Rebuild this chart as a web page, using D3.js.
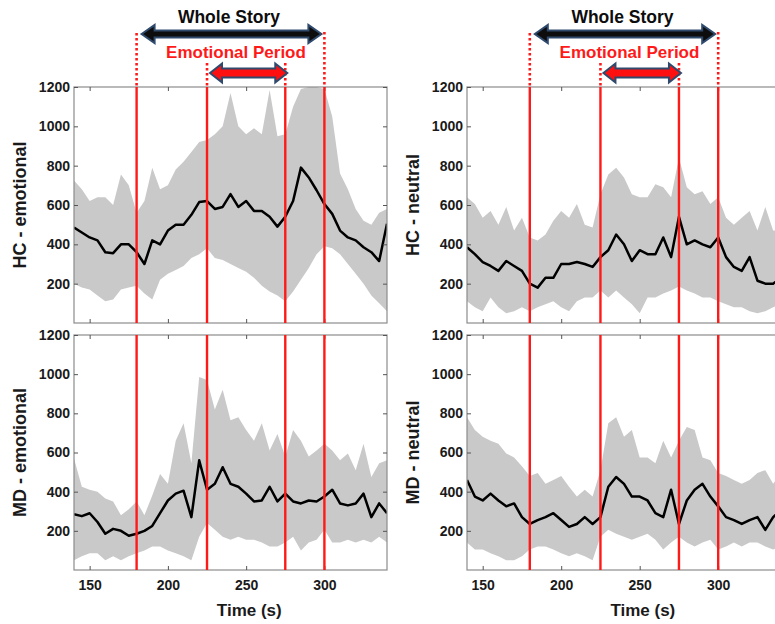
<!DOCTYPE html>
<html>
<head>
<meta charset="utf-8">
<script src="https://cdn.jsdelivr.net/npm/d3@7"></script>
<style>
  body { margin: 0; background: #fff; }
  svg { display: block; font-family: Arial, "Liberation Sans", sans-serif; }
</style>
</head>
<body>
<svg width="775" height="624"></svg>
<script>
// time grid (s)
var times = [140,145,150,155,160,165,170,175,180,185,190,195,200,205,210,215,220,225,230,235,240,
             245,250,255,260,265,270,275,280,285,290,295,300,305,310,315,320,325,330,335,340];

// HC - emotional
var hcEmoMean  = [485,460,435,420,360,355,400,400,360,300,420,400,470,500,500,550,615,620,580,590,655,
                  590,620,570,570,540,490,540,620,790,740,675,605,555,470,435,420,385,360,315,505];
var hcEmoUpper = [725,680,620,640,640,600,755,700,560,620,790,680,700,780,820,870,920,930,960,1000,1170,
                  1000,960,990,960,1185,950,960,1100,1190,1200,1200,1190,1050,760,680,580,520,500,560,580];
var hcEmoLower = [200,180,170,140,110,120,170,180,190,150,120,220,250,270,290,330,350,380,330,320,300,
                  280,260,230,190,160,140,110,160,220,280,350,390,380,350,300,250,200,140,100,60];

// MD - emotional
var mdEmoMean  = [285,275,290,245,185,210,200,175,185,200,225,290,355,390,405,270,560,410,440,525,440,
                  425,390,350,355,425,350,390,350,340,355,350,375,410,340,330,340,390,270,340,290];
var mdEmoUpper = [570,425,410,400,365,350,280,310,350,280,380,490,440,660,750,545,985,970,820,920,765,
                  780,715,660,750,610,695,580,715,660,580,610,645,610,560,595,510,645,475,545,560];
var mdEmoLower = [50,70,85,85,50,70,50,70,85,100,120,120,100,85,70,50,170,240,205,170,155,
                  170,155,155,140,120,120,140,170,100,140,155,205,140,140,155,140,155,140,170,140];

// HC - neutral
var hcNeuMean  = [385,350,310,290,265,315,290,265,200,180,230,230,300,300,310,300,285,335,370,450,400,
                  315,370,350,350,435,335,540,400,420,400,385,435,335,285,265,335,215,200,200,230];
var hcNeuUpper = [640,605,535,570,500,590,470,535,435,420,450,520,570,535,605,500,485,655,755,790,740,
                  655,640,640,705,690,640,840,690,655,670,605,640,535,500,535,570,470,590,470,470];
var hcNeuLower = [110,80,60,130,80,50,60,80,60,80,95,110,80,60,110,130,130,165,130,165,130,
                  95,50,130,130,150,165,185,165,150,130,130,110,95,80,80,60,50,60,80,95];

// MD - neutral
var mdNeuMean  = [460,375,355,390,355,325,340,270,235,255,270,290,255,220,235,270,235,270,425,475,440,
                  375,375,355,290,270,410,235,355,410,440,375,325,270,255,235,255,270,205,270,305];
var mdNeuUpper = [780,715,680,660,645,595,575,530,480,495,440,460,480,425,375,410,375,510,750,780,680,
                  715,575,575,545,660,575,660,730,715,575,560,495,480,460,440,460,495,510,440,495];
var mdNeuLower = [140,105,105,85,70,50,50,70,105,120,120,105,85,70,85,70,50,170,205,185,170,
                  155,170,185,155,105,140,170,140,120,140,155,105,120,140,120,140,140,120,105,120];

var redLines = [180, 225, 275, 300];
var xTicks = [150, 200, 250, 300];
var yTicks = [200, 400, 600, 800, 1000, 1200];

var panels = [
    {name: 'HC - emotional', mean: hcEmoMean, upper: hcEmoUpper, lower: hcEmoLower, col: 0, row: 0},
    {name: 'MD - emotional', mean: mdEmoMean, upper: mdEmoUpper, lower: mdEmoLower, col: 0, row: 1},
    {name: 'HC - neutral',   mean: hcNeuMean, upper: hcNeuUpper, lower: hcNeuLower, col: 1, row: 0},
    {name: 'MD - neutral',   mean: mdNeuMean, upper: mdNeuUpper, lower: mdNeuLower, col: 1, row: 1}
];

var svg = d3.select('svg');
var colX = [[74, 387], [467, 781]];
var rowY = [[323, 87], [570, 335]];
var navy = '#2f4a6d';

function arrowPath(x1, x2, cy, h1, h2, L) {
    return 'M' + x1 + ',' + cy +
        'L' + (x1 + L) + ',' + (cy - h2) + 'L' + (x1 + L) + ',' + (cy - h1) +
        'L' + (x2 - L) + ',' + (cy - h1) + 'L' + (x2 - L) + ',' + (cy - h2) +
        'L' + x2 + ',' + cy +
        'L' + (x2 - L) + ',' + (cy + h2) + 'L' + (x2 - L) + ',' + (cy + h1) +
        'L' + (x1 + L) + ',' + (cy + h1) + 'L' + (x1 + L) + ',' + (cy + h2) + 'Z';
}

panels.forEach(function(p, i) {
    var x = d3.scaleLinear().domain([140, 340]).range(colX[p.col]);
    var y = d3.scaleLinear().domain([0, 1200]).range(rowY[p.row]);
    var g = svg.append('g');

    var clipId = 'clip' + i;
    svg.append('clipPath').attr('id', clipId)
        .append('rect')
        .attr('x', x(140)).attr('y', y(1200))
        .attr('width', x(340) - x(140)).attr('height', y(0) - y(1200));

    var plot = g.append('g').attr('clip-path', 'url(#' + clipId + ')');

    var band = d3.area()
        .x(function(d, j){ return x(times[j]) })
        .y0(function(d, j){ return y(p.lower[j]) })
        .y1(function(d, j){ return y(p.upper[j]) });

    plot.append('path')
        .datum(p.upper)
        .attr('d', band)
        .attr('fill', '#c9c9c9');

    var line = d3.line()
        .x(function(d, j){ return x(times[j]) })
        .y(function(d){ return y(d) });

    plot.append('path')
        .datum(p.mean)
        .attr('d', line)
        .attr('fill', 'none')
        .attr('stroke', '#000')
        .attr('stroke-width', 2.5)
        .attr('stroke-linejoin', 'round');

    // frame
    g.append('rect')
        .attr('x', x(140)).attr('y', y(1200))
        .attr('width', x(340) - x(140)).attr('height', y(0) - y(1200))
        .attr('fill', 'none')
        .attr('stroke', '#8c8c8c')
        .attr('stroke-width', 1.2);

    // axes with inward ticks
    var axB = g.append('g').attr('transform', 'translate(0,' + y(0) + ')')
        .call(d3.axisBottom(x).tickValues(xTicks).tickFormat(d3.format('d'))
            .tickSizeInner(-4).tickSizeOuter(0).tickPadding(10));
    var axT = g.append('g').attr('transform', 'translate(0,' + y(1200) + ')')
        .call(d3.axisTop(x).tickValues(xTicks).tickSizeInner(-4).tickSizeOuter(0).tickFormat(''));
    var axL = g.append('g').attr('transform', 'translate(' + x(140) + ',0)')
        .call(d3.axisLeft(y).tickValues(yTicks).tickFormat(d3.format('d'))
            .tickSizeInner(-4).tickSizeOuter(0).tickPadding(4));
    var axR = g.append('g').attr('transform', 'translate(' + x(340) + ',0)')
        .call(d3.axisRight(y).tickValues(yTicks).tickSizeInner(-4).tickSizeOuter(0).tickFormat(''));

    [axB, axT, axL, axR].forEach(function(a){
        a.select('.domain').remove();
        a.selectAll('line').attr('stroke', '#555');
    });
    axL.selectAll('text')
        .attr('font-size', 14).attr('font-weight', 'bold').attr('fill', '#1a1a1a');
    if (p.row === 1) {
        axB.selectAll('text')
            .attr('font-size', 14).attr('font-weight', 'bold').attr('fill', '#1a1a1a');
    } else {
        axB.selectAll('text').remove();
    }

    // red period lines
    g.selectAll('line.red')
        .data(redLines)
        .enter()
        .append('line')
        .attr('x1', function(d){ return x(d) })
        .attr('x2', function(d){ return x(d) })
        .attr('y1', y(1200))
        .attr('y2', y(0))
        .attr('stroke', '#ff1a1a')
        .attr('stroke-width', 2.4);

    // y label
    g.append('text')
        .attr('transform', 'translate(' + (x(140) - 48) + ',' + ((y(0) + y(1200)) / 2) + ') rotate(-90)')
        .attr('text-anchor', 'middle')
        .attr('font-size', 18)
        .attr('font-weight', 'bold')
        .attr('fill', '#1a1a1a')
        .text(p.name);

    if (p.row === 1) {
        g.append('text')
            .attr('x', x(252)).attr('y', 616)
            .attr('text-anchor', 'middle')
            .attr('font-size', 17)
            .attr('font-weight', 'bold')
            .attr('fill', '#1a1a1a')
            .text('Time (s)');
    }

    if (p.row === 0) {
        var top = y(1200);
        // dotted extensions
        g.selectAll('line.dot')
            .data([[180, 33], [300, 32], [225, 63], [275, 63]])
            .enter()
            .append('line')
            .attr('x1', function(d){ return x(d[0]) })
            .attr('x2', function(d){ return x(d[0]) })
            .attr('y1', function(d){ return d[1] })
            .attr('y2', top)
            .attr('stroke', '#ff1a1a')
            .attr('stroke-width', 2.6)
            .attr('stroke-dasharray', '2.5,2.5');

        g.append('path')
            .attr('d', arrowPath(x(180) + 5, x(300) - 3, 34, 3.5, 9, 13))
            .attr('fill', '#0d0d0d')
            .attr('stroke', navy)
            .attr('stroke-width', 2);

        g.append('path')
            .attr('d', arrowPath(x(225) + 3, x(275) + 2, 73, 4.5, 9.5, 12))
            .attr('fill', '#ff1010')
            .attr('stroke', navy)
            .attr('stroke-width', 2);

        g.append('text')
            .attr('x', x(239)).attr('y', 23)
            .attr('text-anchor', 'middle')
            .attr('font-size', 17.5)
            .attr('font-weight', 'bold')
            .attr('fill', '#0d0d0d')
            .text('Whole Story');

        g.append('text')
            .attr('x', x(243.5)).attr('y', 58)
            .attr('text-anchor', 'middle')
            .attr('font-size', 17)
            .attr('font-weight', 'bold')
            .attr('fill', '#ff1a1a')
            .text('Emotional Period');
    }
});
</script>
</body>
</html>
